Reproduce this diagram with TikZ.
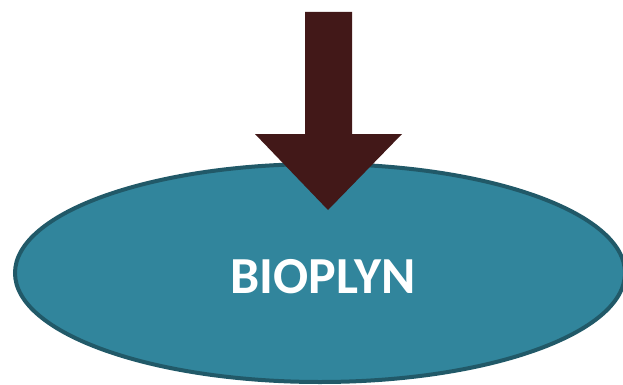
\documentclass[tikz,border=0pt]{standalone}
\usepackage{fontspec}
\setmainfont{Carlito}
\definecolor{tealfill}{RGB}{49,133,156}
\definecolor{tealline}{RGB}{33,89,104}
\definecolor{arrowbrown}{RGB}{66,24,24}
\begin{document}
\begin{tikzpicture}[x=1pt,y=-1pt,
  blob/.style={fill=tealfill,draw=tealline,line width=4pt},
  bigarrow/.style={fill=arrowbrown}]
\useasboundingbox (0,0) rectangle (623,385);
\clip (0,0) rectangle (623,385);
\path[blob] (320,273) ellipse [x radius=305, y radius=109];
\node[text=white,font=\bfseries\fontsize{52}{52}\selectfont] (lbl) at (323,277) {BIOPLYN};
\fill[bigarrow] (305,12) -- (352,12) -- (352,134) -- (402,134) -- (328,210) -- (255,134) -- (305,134) -- cycle;
\end{tikzpicture}
\end{document}
